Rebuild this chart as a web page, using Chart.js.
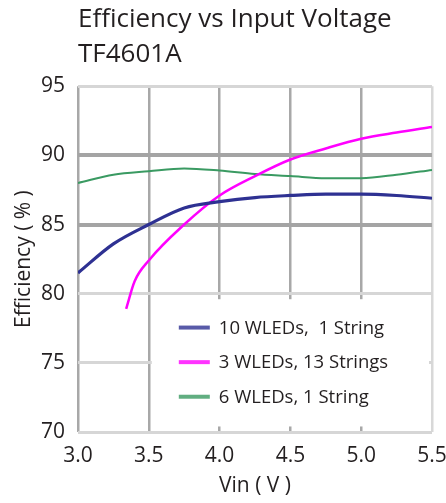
<!DOCTYPE html>
<html>
<head>
<meta charset="utf-8">
<script src="https://cdn.jsdelivr.net/npm/chart.js@4.4.1/dist/chart.umd.min.js"></script>
<style>
  html, body { margin: 0; padding: 0; background: #fff; }
  #wrap { width: 446px; height: 503px; }
</style>
</head>
<body>
<div id="wrap"><canvas id="chartEff"></canvas></div>
<script>
// datos
const seriesNames = ['10 WLEDs,  1 String', '3 WLEDs, 13 Strings', '6 WLEDs, 1 String'];
const seriesColors = ['#2e3192', '#ff00ff', '#3a9a62'];

const vin10 = [3.0, 3.25, 3.5, 3.75, 4.0, 4.25, 4.5, 4.75, 5.0, 5.25, 5.5];
const eff10 = [81.5, 83.6, 85.0, 86.2, 86.65, 86.95, 87.1, 87.2, 87.2, 87.1, 86.9];

const vin3 = [3.34, 3.4, 3.5, 3.75, 4.0, 4.25, 4.5, 4.75, 5.0, 5.25, 5.5];
const eff3 = [78.9, 80.9, 82.4, 85.0, 87.1, 88.5, 89.7, 90.5, 91.2, 91.65, 92.05];

const vin6 = [3.0, 3.25, 3.5, 3.75, 4.0, 4.25, 4.5, 4.75, 5.0, 5.25, 5.5];
const eff6 = [88.0, 88.6, 88.85, 89.05, 88.9, 88.65, 88.5, 88.35, 88.35, 88.6, 88.95];

const xTicks = [3.0, 3.5, 4.0, 4.5, 5.0, 5.5];
const yTicks = [70, 75, 80, 85, 90, 95];

const toPoints = (xs, ys) => xs.map((x, i) => ({ x: x, y: ys[i] }));

const fontName = '"Open Sans", "DejaVu Sans", sans-serif';

// leyenda dentro del area de la grafica, con fondo blanco
const legendInside = {
    id: 'legendInside',
    afterDatasetsDraw(chart) {
        const ctx = chart.ctx;
        const xs = chart.scales.x;
        const ys = chart.scales.y;
        const left = xs.getPixelForValue(3.5) + 3;
        const right = xs.getPixelForValue(5.5) - 3;
        const top = ys.getPixelForValue(79.6);
        const bottom = ys.getPixelForValue(70.4);
        ctx.save();
        ctx.fillStyle = '#ffffff';
        ctx.fillRect(left, top, right - left, bottom - top);
        ctx.font = '18.5px ' + fontName;
        ctx.textBaseline = 'middle';
        chart.data.datasets.forEach((ds, i) => {
            const y = ys.getPixelForValue(77.55 - i * 2.5);
            ctx.strokeStyle = ds.borderColor;
            ctx.globalAlpha = 0.8;
            ctx.lineWidth = 4;
            ctx.lineCap = 'butt';
            ctx.beginPath();
            ctx.moveTo(left + 27, y);
            ctx.lineTo(left + 58, y);
            ctx.stroke();
            ctx.globalAlpha = 1;
            ctx.fillStyle = '#231f20';
            ctx.fillText(ds.label, left + 67, y + 1);
        });
        ctx.restore();
    }
};

const chartEff = new Chart(document.getElementById('chartEff'), {
    type: 'line',
    data: {
        datasets: [
            { label: seriesNames[0], data: toPoints(vin10, eff10), borderColor: seriesColors[0], borderWidth: 3.2 },
            { label: seriesNames[1], data: toPoints(vin3, eff3), borderColor: seriesColors[1], borderWidth: 2.5 },
            { label: seriesNames[2], data: toPoints(vin6, eff6), borderColor: seriesColors[2], borderWidth: 2 }
        ]
    },
    options: {
        responsive: true,
        maintainAspectRatio: false,
        animation: false,
        layout: { padding: { left: 0, right: 0, top: 2, bottom: 4 } },
        elements: {
            point: { radius: 0 },
            line: { cubicInterpolationMode: 'monotone', fill: false }
        },
        plugins: {
            legend: { display: false },
            tooltip: { enabled: false },
            title: {
                display: true,
                text: ['Efficiency vs Input Voltage', 'TF4601A'],
                align: 'start',
                fullSize: false,
                color: '#231f20',
                font: { family: fontName, size: 26, weight: 'normal', lineHeight: 1.35 },
                padding: { top: 0, bottom: 14 }
            }
        },
        scales: {
            x: {
                type: 'linear',
                min: 3.0,
                max: 5.5,
                afterBuildTicks: (axis) => { axis.ticks = xTicks.map(v => ({ value: v })); },
                afterFit: (axis) => { axis.height = 67; axis.paddingRight = 14; },
                ticks: {
                    color: '#231f20',
                    font: { family: fontName, size: 21 },
                    padding: 11,
                    maxRotation: 0,
                    callback: (v) => Number(v).toFixed(1)
                },
                grid: {
                    color: (c) => (c.tick && c.tick.value === 5.5) ? '#d8d8d8' : '#a8a8a8',
                    lineWidth: 2.5,
                    drawTicks: false
                },
                border: { display: false },
                title: {
                    display: true,
                    text: 'Vin ( V )',
                    color: '#231f20',
                    font: { family: fontName, size: 21 },
                    padding: { top: 5, bottom: 0 }
                }
            },
            y: {
                min: 70,
                max: 95,
                afterBuildTicks: (axis) => { axis.ticks = yTicks.map(v => ({ value: v })); },
                afterFit: (axis) => { axis.width = 78; },
                ticks: {
                    color: '#231f20',
                    font: { family: fontName, size: 21 },
                    padding: 13
                },
                grid: {
                    color: (c) => (c.tick && (c.tick.value === 90 || c.tick.value === 85)) ? '#a4a4a4' : '#d6d6d6',
                    lineWidth: (c) => (c.tick && (c.tick.value === 90 || c.tick.value === 85)) ? 4 : 3,
                    drawTicks: false
                },
                border: { display: false },
                title: {
                    display: true,
                    text: 'Efficiency ( % )',
                    color: '#231f20',
                    font: { family: fontName, size: 21 },
                    padding: { top: 11, bottom: 0 }
                }
            }
        }
    },
    plugins: [legendInside]
});
</script>
</body>
</html>
